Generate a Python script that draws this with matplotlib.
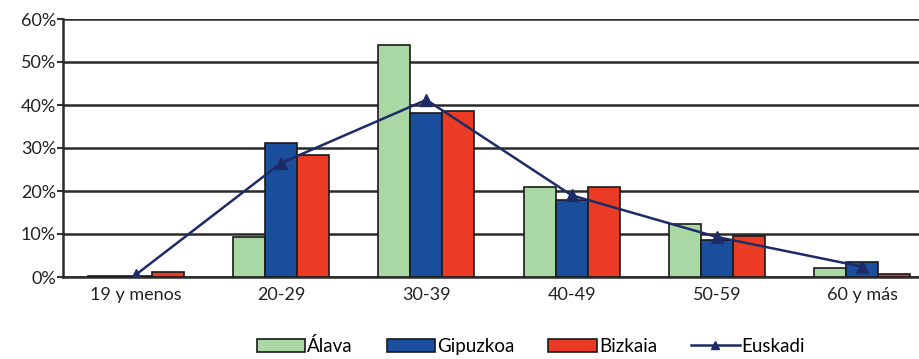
import numpy as np
import matplotlib.pyplot as plt

plt.rcParams['font.family'] = ['Lato', 'DejaVu Sans']

# data (percentages)
categories = ['19 y menos', '20-29', '30-39', '40-49', '50-59', '60 y más']
alava = [0.2, 9.3, 54.0, 21.0, 12.3, 2.1]
gipuzkoa = [0.3, 31.2, 38.1, 17.9, 8.6, 3.5]
bizkaia = [1.2, 28.4, 38.6, 21.0, 9.5, 0.6]
euskadi = [0.5, 26.5, 41.2, 19.0, 9.3, 2.4]
yticks = [0, 10, 20, 30, 40, 50, 60]

c_green = '#a9d8a4'
c_blue = '#1b4f9e'
c_red = '#ec3b24'
c_line = '#1d2c66'

fig = plt.figure(figsize=(9.2, 3.59), dpi=100)
ax = fig.add_axes([63 / 920, 82 / 359, 872 / 920, 258 / 359])

x = np.arange(len(categories))
w = 0.22
b1 = ax.bar(x - w, alava, w, color=c_green, edgecolor='#1a1a1a', linewidth=1.2, label='Álava', zorder=3)
b2 = ax.bar(x, gipuzkoa, w, color=c_blue, edgecolor='#1a1a1a', linewidth=1.2, label='Gipuzkoa', zorder=3)
b3 = ax.bar(x + w, bizkaia, w, color=c_red, edgecolor='#1a1a1a', linewidth=1.2, label='Bizkaia', zorder=3)
l1, = ax.plot(x, euskadi, color=c_line, marker='^', markersize=8, linewidth=1.8, label='Euskadi', zorder=4)

ax.set_xlim(-0.5, len(categories) - 0.5)
ax.set_ylim(0, 60)
ax.set_yticks(yticks)
ax.set_yticklabels([f'{v}%' for v in yticks], fontsize=13, color='#222222')
ax.set_xticks(x)
ax.set_xticklabels(categories, fontsize=13, color='#222222')
ax.tick_params(axis='x', length=0, pad=7)
ax.tick_params(axis='y', length=4, width=1.5, color='#333333', pad=1)
ax.yaxis.grid(True, color='#2a2a2a', linewidth=1.8, zorder=0)
ax.set_axisbelow(True)
for s in ['top', 'right']:
    ax.spines[s].set_visible(False)
ax.spines['left'].set_color('#2a2a2a')
ax.spines['left'].set_linewidth(1.8)
ax.spines['bottom'].set_color('#2a2a2a')
ax.spines['bottom'].set_linewidth(1.8)

fig.legend(handles=[b1, b2, b3, l1], loc='lower center', bbox_to_anchor=(0.577, -0.035), ncol=4,
           frameon=False, fontsize=13.5, handlelength=2.6, handleheight=0.7, columnspacing=1.8,
           handletextpad=0.1, markerscale=0.8)

fig.savefig('out.png', dpi=100)
